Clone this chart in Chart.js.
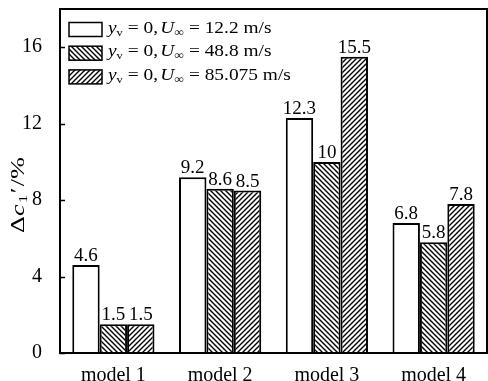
<!DOCTYPE html>
<html>
<head>
<meta charset="utf-8">
<script src="https://cdn.jsdelivr.net/npm/chart.js@4.4.1/dist/chart.umd.min.js"></script>
<style>
  html, body { margin: 0; padding: 0; background: #fff; }
  #wrap { width: 488px; height: 381px; }
</style>
</head>
<body>
<div id="wrap"><canvas id="c" width="488" height="381"></canvas></div>
<script>
// Drag-coefficient change per model for three free-stream speeds
const categories = ['model 1', 'model 2', 'model 3', 'model 4'];
const speeds = ['12.2', '48.8', '85.075'];
const series1 = [4.6, 9.2, 12.3, 6.8];
const series2 = [1.5, 8.6, 10, 5.8];
const series3 = [1.5, 8.5, 15.5, 7.8];
const yTicks = [0, 4, 8, 12, 16];

const SERIF = '"Liberation Serif", "Times New Roman", serif';

// Diagonal hatch fill; dir = 1 for "\\\\", -1 for "////"
function hatch(dir) {
  const s = 5;
  const t = document.createElement('canvas');
  t.width = s; t.height = s;
  const g = t.getContext('2d');
  g.fillStyle = '#fff';
  g.fillRect(0, 0, s, s);
  g.strokeStyle = '#000';
  g.lineWidth = 1.4;
  g.beginPath();
  if (dir > 0) {
    g.moveTo(-1, -1); g.lineTo(s + 1, s + 1);
    g.moveTo(-1, s - 1); g.lineTo(1, s + 1);
    g.moveTo(s - 1, -1); g.lineTo(s + 1, 1);
  } else {
    g.moveTo(-1, s + 1); g.lineTo(s + 1, -1);
    g.moveTo(-1, 1); g.lineTo(1, -1);
    g.moveTo(s - 1, s + 1); g.lineTo(s + 1, s - 1);
  }
  g.stroke();
  return g.createPattern(t, 'repeat');
}

const ctx0 = document.getElementById('c').getContext('2d');
const fills = ['#ffffff', hatch(1), hatch(-1)];

function partFont(p) {
  return (p.italic ? 'italic ' : '') + p.size + 'px ' + SERIF;
}

// Draw a run of styled text pieces with a horizontal stretch; returns width
function richText(ctx, x, y, parts, stretch) {
  ctx.save();
  ctx.translate(x, y);
  ctx.scale(stretch, 1);
  let cx = 0;
  for (const p of parts) {
    ctx.font = partFont(p);
    ctx.fillText(p.t, cx, p.dy || 0);
    cx += ctx.measureText(p.t).width + (p.gap || 0);
  }
  ctx.restore();
  return cx * stretch;
}

function measureParts(ctx, parts) {
  let w = 0;
  parts.forEach(p => { ctx.font = partFont(p); w += ctx.measureText(p.t).width + (p.gap || 0); });
  return w;
}

const framePlugin = {
  id: 'frame',
  afterDatasetsDraw(chart) {
    const { ctx, chartArea: a, scales } = chart;
    ctx.save();
    // value labels above bars
    ctx.fillStyle = '#000';
    ctx.textAlign = 'center';
    ctx.textBaseline = 'alphabetic';
    ctx.font = '19px ' + SERIF;
    chart.data.datasets.forEach((ds, i) => {
      chart.getDatasetMeta(i).data.forEach((bar, j) => {
        ctx.fillText(String(ds.data[j]), bar.x, bar.y - 4);
      });
    });
    // plot frame
    ctx.strokeStyle = '#000';
    ctx.lineWidth = 2;
    ctx.strokeRect(a.left, a.top, a.right - a.left, a.bottom - a.top);
    // inward y ticks
    ctx.lineWidth = 1.5;
    ctx.beginPath();
    scales.y.ticks.forEach(t => {
      const py = Math.round(scales.y.getPixelForValue(t.value)) + 0.5;
      ctx.moveTo(a.left, py);
      ctx.lineTo(a.left + 5, py);
    });
    ctx.stroke();

    // legend
    ctx.textAlign = 'left';
    const rowH = 23.7;
    speeds.forEach((sp, i) => {
      const cy = a.top + 20.5 + i * rowH;
      ctx.fillStyle = fills[i];
      ctx.fillRect(69, cy - 7, 33, 14);
      ctx.lineWidth = 1.5;
      ctx.strokeStyle = '#000';
      ctx.strokeRect(69, cy - 7, 33, 14);
      ctx.fillStyle = '#000';
      richText(ctx, 108, cy + 3, [
        { t: 'y', size: 17, italic: true },
        { t: 'v', size: 11, dy: 3 },
        { t: ' = 0,', size: 17, gap: 2 },
        { t: 'U', size: 17, italic: true },
        { t: '\u221e', size: 12, dy: 3 },
        { t: ' = ' + sp + ' m/s', size: 17 }
      ], 1.14);
    });

    // y-axis title
    const parts = [
      { t: '\u0394', size: 19 },
      { t: 'c', size: 19, italic: true, gap: 1 },
      { t: '1', size: 12, dy: 3, gap: 1 },
      { t: '\u2032', size: 19, gap: 1 },
      { t: '/%', size: 19 }
    ];
    const stretch = 1.38;
    const w = measureParts(ctx, parts) * stretch;
    ctx.translate(24, 195);
    ctx.rotate(-Math.PI / 2);
    richText(ctx, -w / 2, 0, parts, stretch);
    ctx.restore();
  }
};

new Chart(ctx0, {
  type: 'bar',
  data: {
    labels: categories,
    datasets: [series1, series2, series3].map((d, i) => ({
      label: speeds[i],
      data: d,
      backgroundColor: fills[i],
      borderColor: '#000',
      borderWidth: 2,
      borderSkipped: 'bottom',
      categoryPercentage: 0.77,
      barPercentage: 1.0
    }))
  },
  options: {
    responsive: false,
    animation: false,
    devicePixelRatio: 1,
    layout: { padding: { top: 9, right: 1, left: 0, bottom: 0 } },
    plugins: { legend: { display: false }, tooltip: { enabled: false } },
    scales: {
      x: {
        grid: { display: false },
        border: { display: false },
        ticks: { color: '#000', padding: 3, font: { family: SERIF, size: 20 } },
        afterFit(s) { s.height = 28; s.paddingLeft = 0; s.paddingRight = 0; }
      },
      y: {
        min: 0,
        max: 18,
        grid: { display: false },
        border: { display: false },
        afterBuildTicks(s) { s.ticks = yTicks.map(v => ({ value: v })); },
        ticks: { color: '#000', padding: 10, font: { family: SERIF, size: 20 } },
        afterFit(s) { s.width = 60; s.paddingTop = 0; s.paddingBottom = 0; }
      }
    }
  },
  plugins: [framePlugin]
});
</script>
</body>
</html>
